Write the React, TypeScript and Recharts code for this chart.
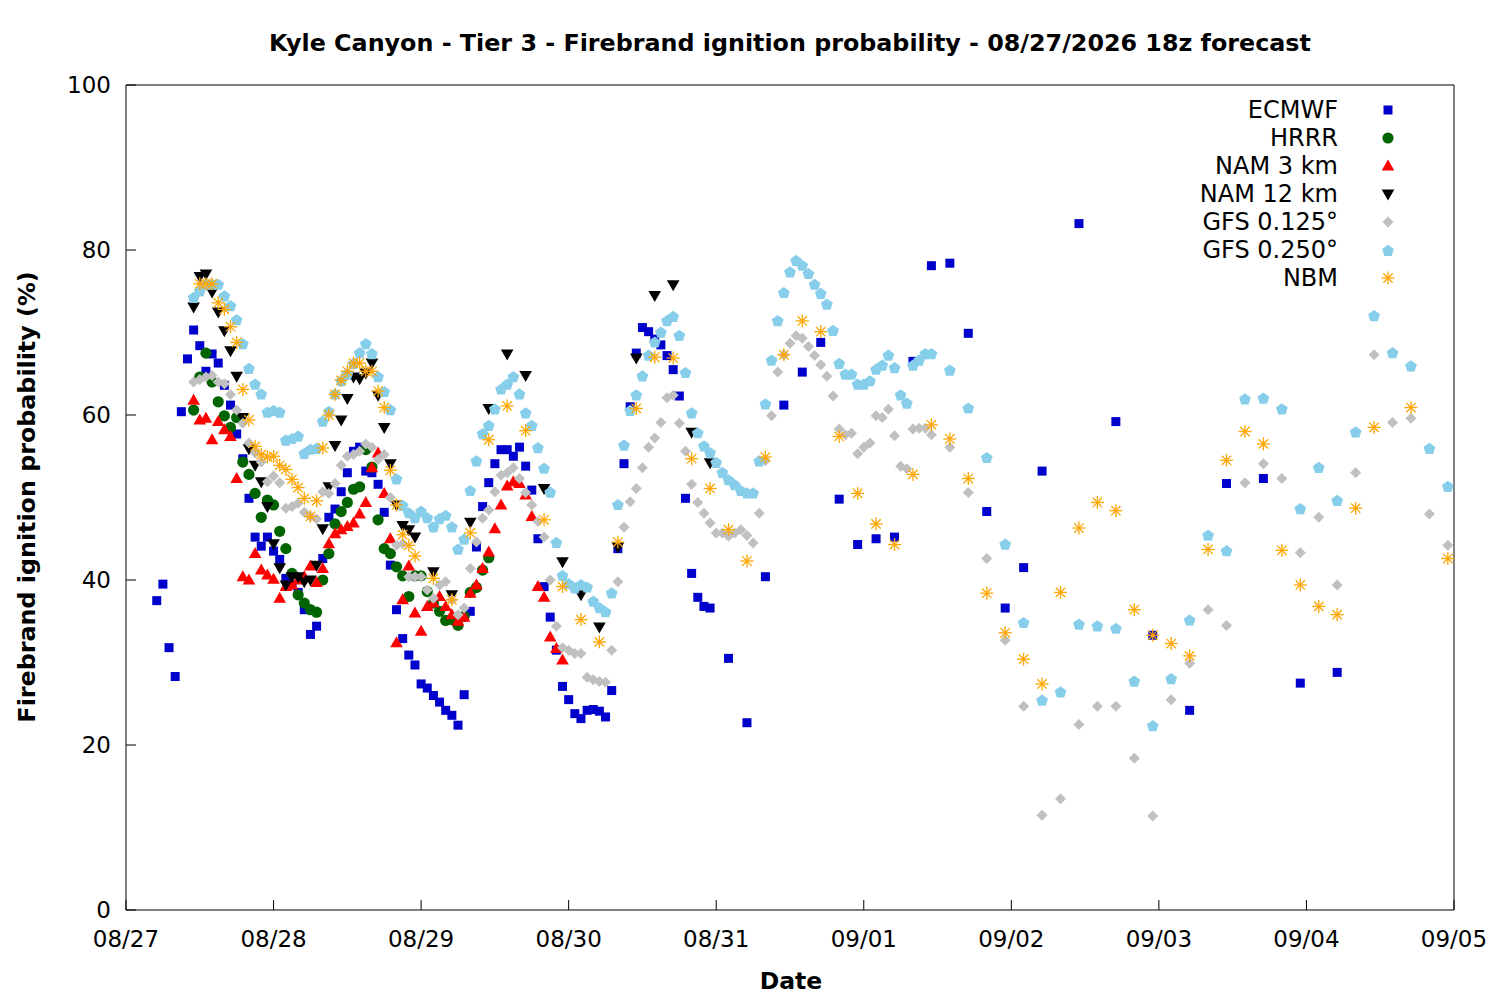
import React from "react";
import { ScatterChart, Scatter, XAxis, YAxis } from "recharts";

// hours since 08/27 00, value in %
const dateLabels = ["08/27", "08/28", "08/29", "08/30", "08/31", "09/01", "09/02", "09/03", "09/04", "09/05"];
const dayTicks = [0, 24, 48, 72, 96, 120, 144, 168, 192, 216];
const valueTicks = [0, 20, 40, 60, 80, 100];

const ecmwf: [number, number][] = [
  [5, 37.5], [6, 39.5], [7, 31.8], [8, 28.3], [9, 60.4], [10, 66.8], [11, 70.3], [12, 68.4], [13, 65.3], [14, 67.4],
  [15, 66.3], [16, 63.6], [17, 61.2], [18, 57.7], [19, 54.7], [20, 49.9], [21, 45.2], [22, 44.1], [23, 45.2], [24, 43.5],
  [25, 42.5], [26, 40.2], [27, 39.4], [28, 38.5], [29, 36.4], [30, 33.4], [31, 34.4], [32, 42.6], [33, 47.6], [34, 48.6],
  [35, 50.7], [36, 53.0], [37, 55.6], [38, 56.1], [39, 53.2], [40, 53.0], [41, 51.6], [42, 48.2], [43, 41.8], [44, 36.4],
  [45, 32.9], [46, 30.9], [47, 29.7], [48, 27.4], [49, 26.9], [50, 26.0], [51, 25.2], [52, 24.2], [53, 23.6], [54, 22.4],
  [55, 26.1], [56, 36.2], [57, 44.0], [58, 48.9], [59, 51.8], [60, 54.1], [61, 55.8], [62, 55.8], [63, 55.0], [64, 56.1],
  [65, 53.8], [66, 50.9], [67, 45.0], [68, 39.2], [69, 35.5], [70, 31.5], [71, 27.1], [72, 25.5], [73, 23.8], [74, 23.2],
  [75, 24.2], [76, 24.3], [77, 24.1], [78, 23.4], [79, 26.6], [80, 43.8], [81, 54.1], [82, 61.0], [83, 67.5], [84, 70.6],
  [85, 70.1], [86, 69.2], [87, 68.5], [88, 67.2], [89, 65.5], [90, 62.3], [91, 49.9], [92, 40.8], [93, 37.9], [94, 36.8],
  [95, 36.6], [98, 30.5], [101, 22.7], [104, 40.4], [107, 61.2], [110, 65.2], [113, 68.8], [116, 49.8], [119, 44.3],
  [122, 45.0], [125, 45.2], [128, 66.5], [131, 78.1], [134, 78.4], [137, 69.9], [140, 48.3], [143, 36.6], [146, 41.5],
  [149, 53.2], [155, 83.2], [161, 59.2], [167, 33.3], [173, 24.2], [179, 51.7], [185, 52.3], [191, 27.5], [197, 28.8],
];

const hrrr: [number, number][] = [
  [11, 60.6], [12, 64.6], [13, 67.5], [14, 64.0], [15, 61.6], [16, 59.9], [17, 58.5], [18, 59.7], [19, 54.3], [20, 52.8],
  [21, 50.5], [22, 47.6], [23, 49.7], [24, 49.1], [25, 45.9], [26, 43.8], [27, 40.8], [28, 38.2], [29, 37.2], [30, 36.4],
  [31, 36.1], [32, 40.0], [33, 43.2], [34, 46.8], [35, 48.3], [36, 49.4], [37, 51.0], [38, 51.3], [39, 55.8], [40, 53.7],
  [41, 47.3], [42, 43.8], [43, 43.2], [44, 41.6], [45, 40.5], [46, 38.0], [47, 40.5], [48, 40.5], [49, 38.6], [50, 37.2],
  [51, 36.2], [52, 35.1], [53, 35.2], [54, 34.5], [55, 35.6], [56, 38.5], [57, 39.1], [58, 41.2], [59, 42.7],
];

const nam3: [number, number][] = [
  [11, 61.8], [12, 59.4], [13, 59.6], [14, 57.0], [15, 59.2], [16, 58.2], [17, 57.4], [18, 52.3], [19, 40.4], [20, 40.0],
  [21, 43.2], [22, 41.2], [23, 40.6], [24, 40.1], [25, 37.8], [26, 39.2], [27, 39.4], [28, 40.0], [29, 40.4], [30, 41.7],
  [31, 39.7], [32, 41.4], [33, 44.4], [34, 45.6], [35, 46.1], [36, 46.5], [37, 46.9], [38, 48.0], [39, 49.4], [40, 53.6],
  [41, 55.4], [42, 50.5], [43, 45.0], [44, 32.4], [45, 37.6], [46, 41.7], [47, 36.0], [48, 33.8], [49, 36.8], [50, 37.2],
  [51, 38.0], [52, 36.8], [53, 35.8], [54, 35.0], [55, 35.5], [56, 38.4], [57, 39.4], [58, 41.4], [59, 43.4], [60, 46.2],
  [61, 49.1], [62, 51.4], [63, 51.9], [64, 51.7], [65, 50.3], [66, 47.7], [67, 39.2], [68, 37.9], [69, 33.1], [70, 31.7],
  [71, 30.3],
];

const nam12: [number, number][] = [
  [11, 73.1], [12, 76.8], [13, 77.1], [14, 74.9], [15, 72.5], [16, 70.2], [17, 67.8], [18, 64.7], [19, 59.7], [20, 55.9],
  [21, 53.9], [22, 51.9], [23, 48.9], [24, 44.4], [25, 41.5], [26, 39.4], [27, 40.4], [28, 40.4], [29, 39.8], [30, 40.0],
  [31, 41.8], [32, 46.2], [33, 51.3], [34, 56.3], [35, 59.4], [36, 62.0], [37, 64.6], [38, 64.4], [39, 65.1], [40, 66.3],
  [41, 62.4], [42, 58.5], [43, 54.1], [44, 49.1], [45, 46.6], [46, 46.1], [47, 45.2], [50, 41.0], [53, 38.2], [56, 47.0],
  [59, 60.8], [62, 67.4], [65, 64.8], [68, 51.1], [71, 42.2], [74, 38.2], [77, 34.3], [80, 44.0], [83, 66.9], [86, 74.5],
  [89, 75.8], [92, 57.9], [95, 54.2],
];

const gfs125: [number, number][] = [
  [11, 64.0], [12, 64.3], [13, 64.6], [14, 64.8], [15, 64.0], [16, 63.8], [17, 62.5], [18, 60.6], [19, 59.0], [20, 56.6],
  [21, 55.4], [22, 54.3], [23, 51.9], [24, 52.6], [25, 51.8], [26, 48.7], [27, 48.9], [28, 49.3], [29, 48.2], [30, 47.7],
  [31, 47.4], [32, 50.7], [33, 50.5], [34, 51.7], [35, 53.9], [36, 55.0], [37, 55.2], [38, 55.6], [39, 56.5], [40, 56.1],
  [41, 54.6], [42, 55.2], [43, 50.0], [44, 44.2], [45, 44.4], [46, 40.4], [47, 40.4], [48, 40.4], [49, 38.8], [50, 37.8],
  [51, 39.4], [52, 39.8], [53, 37.6], [54, 35.8], [55, 36.6], [56, 41.4], [57, 44.6], [58, 47.5], [59, 48.5], [60, 50.7],
  [61, 52.7], [62, 53.0], [63, 53.6], [64, 52.3], [65, 50.6], [66, 49.1], [67, 47.1], [68, 45.2], [69, 40.0], [70, 34.4],
  [71, 31.8], [72, 31.5], [73, 31.1], [74, 31.1], [75, 28.2], [76, 27.9], [77, 27.7], [78, 27.6], [79, 31.5], [80, 39.8],
  [81, 46.4], [82, 49.5], [83, 51.1], [84, 53.6], [85, 56.1], [86, 57.2], [87, 59.1], [88, 62.1], [89, 62.4], [90, 59.0],
  [91, 55.6], [92, 51.6], [93, 49.4], [94, 48.1], [95, 46.9], [96, 45.7], [97, 45.7], [98, 45.3], [99, 45.7], [100, 46.1],
  [101, 45.4], [102, 44.5], [103, 48.1], [104, 54.5], [105, 59.9], [106, 65.2], [107, 67.3], [108, 68.7], [109, 69.6],
  [110, 69.3], [111, 68.3], [112, 67.2], [113, 66.1], [114, 64.7], [115, 62.3], [116, 58.3], [117, 57.6], [118, 57.8],
  [119, 55.3], [120, 56.1], [121, 56.6], [122, 59.9], [123, 59.7], [124, 60.7], [125, 57.5], [126, 53.8], [127, 53.5],
  [128, 58.3], [129, 58.4], [130, 58.4], [131, 57.6], [134, 56.1], [137, 50.6], [140, 42.6], [143, 32.7], [146, 24.7],
  [149, 11.5], [152, 13.5], [155, 22.5], [158, 24.7], [161, 24.7], [164, 18.4], [167, 11.4], [170, 25.5], [173, 29.9],
  [176, 36.4], [179, 34.5], [182, 51.8], [185, 54.1], [188, 52.3], [191, 43.3], [194, 47.6], [197, 39.4], [200, 53.0],
  [203, 67.3], [206, 59.1], [209, 59.6], [212, 48.0], [215, 44.2],
];

const gfs250: [number, number][] = [
  [11, 74.3], [12, 75.1], [13, 75.9], [14, 75.9], [15, 75.9], [16, 74.5], [17, 73.3], [18, 71.6], [19, 68.7], [20, 65.7],
  [21, 63.8], [22, 62.6], [23, 60.4], [24, 60.6], [25, 60.4], [26, 57.0], [27, 57.2], [28, 57.5], [29, 55.4], [30, 55.9],
  [31, 56.0], [32, 59.3], [33, 60.5], [34, 62.6], [35, 64.2], [36, 65.0], [37, 66.3], [38, 67.6], [39, 68.7], [40, 67.5],
  [41, 64.7], [42, 62.9], [43, 60.7], [44, 52.3], [45, 49.1], [46, 48.2], [47, 47.6], [48, 48.4], [49, 47.6], [50, 46.5],
  [51, 47.5], [52, 47.9], [53, 46.5], [54, 43.8], [55, 45.0], [56, 50.9], [57, 54.5], [58, 57.8], [59, 58.8], [60, 60.8],
  [61, 63.2], [62, 63.8], [63, 64.7], [64, 62.6], [65, 60.3], [66, 58.8], [67, 56.1], [68, 53.6], [69, 50.7], [70, 44.6],
  [71, 40.6], [72, 39.6], [73, 39.1], [74, 39.5], [75, 39.2], [76, 37.5], [77, 36.7], [78, 36.2], [79, 38.5], [80, 49.2],
  [81, 56.4], [82, 60.6], [83, 62.5], [84, 64.8], [85, 67.3], [86, 68.9], [87, 70.1], [88, 71.5], [89, 72.0], [90, 69.7],
  [91, 65.2], [92, 60.3], [93, 57.9], [94, 56.3], [95, 55.5], [96, 54.3], [97, 53.1], [98, 52.2], [99, 51.6], [100, 50.9],
  [101, 50.6], [102, 50.6], [103, 54.5], [104, 61.4], [105, 66.7], [106, 71.5], [107, 74.9], [108, 77.4], [109, 78.8],
  [110, 78.2], [111, 77.2], [112, 75.9], [113, 74.8], [114, 73.5], [115, 70.3], [116, 66.3], [117, 65.0], [118, 65.0],
  [119, 63.8], [120, 63.8], [121, 64.2], [122, 65.6], [123, 66.1], [124, 67.3], [125, 65.8], [126, 62.5], [127, 61.5],
  [128, 66.1], [129, 66.7], [130, 67.5], [131, 67.5], [134, 65.5], [137, 60.9], [140, 54.9], [143, 44.4], [146, 34.9],
  [149, 25.5], [152, 26.5], [155, 34.7], [158, 34.5], [161, 34.2], [164, 27.8], [167, 22.4], [170, 28.1], [173, 35.2],
  [176, 45.5], [179, 43.6], [182, 62.0], [185, 62.1], [188, 60.8], [191, 48.7], [194, 53.7], [197, 49.7], [200, 58.0],
  [203, 72.1], [206, 67.6], [209, 66.0], [212, 56.0], [215, 51.4],
];

const nbm: [number, number][] = [
  [12, 75.9], [13, 75.9], [14, 75.9], [15, 73.6], [16, 72.8], [17, 70.7], [18, 68.8], [19, 63.1], [20, 59.4], [21, 56.2],
  [22, 55.2], [23, 54.9], [24, 55.0], [25, 53.9], [26, 53.4], [27, 52.2], [28, 51.2], [29, 49.9], [30, 47.7], [31, 49.6],
  [32, 56.0], [33, 60.0], [34, 62.5], [35, 64.2], [36, 65.3], [37, 66.3], [38, 66.3], [39, 65.3], [40, 65.3], [41, 62.9],
  [42, 60.9], [43, 53.3], [44, 49.1], [45, 45.5], [46, 44.2], [47, 42.9], [50, 40.2], [53, 37.6], [56, 45.7], [59, 57.0],
  [62, 61.1], [65, 58.1], [68, 47.3], [71, 39.2], [74, 35.2], [77, 32.5], [80, 44.6], [83, 60.8], [86, 67.0], [89, 66.9],
  [92, 54.7], [95, 51.1], [98, 46.1], [101, 42.3], [104, 54.9], [107, 67.3], [110, 71.4], [113, 70.1], [116, 57.4],
  [119, 50.5], [122, 46.8], [125, 44.3], [128, 52.8], [131, 58.8], [134, 57.1], [137, 52.3], [140, 38.4], [143, 33.6],
  [146, 30.4], [149, 27.4], [152, 38.5], [155, 46.3], [158, 49.4], [161, 48.4], [164, 36.4], [167, 33.3], [170, 32.3],
  [173, 30.8], [176, 43.7], [179, 54.5], [182, 58.0], [185, 56.5], [188, 43.6], [191, 39.4], [194, 36.8], [197, 35.8],
  [200, 48.7], [203, 58.5], [209, 60.9], [215, 42.6],
];

type Kind = "square" | "circle" | "triUp" | "triDown" | "diamond" | "pentagon" | "asterisk";

const series: { name: string; rows: [number, number][]; color: string; kind: Kind }[] = [
  { name: "ECMWF", rows: ecmwf, color: "#0000cc", kind: "square" },
  { name: "HRRR", rows: hrrr, color: "#006400", kind: "circle" },
  { name: "NAM 3 km", rows: nam3, color: "#ff0000", kind: "triUp" },
  { name: "NAM 12 km", rows: nam12, color: "#000000", kind: "triDown" },
  { name: "GFS 0.125°", rows: gfs125, color: "#c0c0c0", kind: "diamond" },
  { name: "GFS 0.250°", rows: gfs250, color: "#87ceeb", kind: "pentagon" },
  { name: "NBM", rows: nbm, color: "#ffa500", kind: "asterisk" },
];

const FONT = "'DejaVu Sans', sans-serif";

function Marker({ kind, cx, cy, color }: { kind: Kind; cx: number; cy: number; color: string }) {
  if (cx == null || cy == null) return null;
  switch (kind) {
    case "square":
      return <rect x={cx - 4.5} y={cy - 4.5} width={9} height={9} fill={color} />;
    case "circle":
      return <circle cx={cx} cy={cy} r={5.6} fill={color} />;
    case "triUp":
      return <polygon points={`${cx},${cy - 6.5} ${cx + 6.3},${cy + 4.5} ${cx - 6.3},${cy + 4.5}`} fill={color} />;
    case "triDown":
      return <polygon points={`${cx - 6.3},${cy - 4.5} ${cx + 6.3},${cy - 4.5} ${cx},${cy + 6.5}`} fill={color} />;
    case "diamond":
      return <polygon points={`${cx},${cy - 5.5} ${cx + 5.5},${cy} ${cx},${cy + 5.5} ${cx - 5.5},${cy}`} fill={color} />;
    case "pentagon": {
      const pts = [0, 1, 2, 3, 4]
        .map((i) => {
          const a = -Math.PI / 2 + (i * 2 * Math.PI) / 5;
          return `${cx + 6.2 * Math.cos(a)},${cy + 1 + 6.2 * Math.sin(a)}`;
        })
        .join(" ");
      return <polygon points={pts} fill={color} />;
    }
    case "asterisk": {
      const r = 6.5;
      const d = r * 0.72;
      return (
        <g stroke={color} strokeWidth={1.3}>
          <line x1={cx - r} y1={cy} x2={cx + r} y2={cy} />
          <line x1={cx} y1={cy - r} x2={cx} y2={cy + r} />
          <line x1={cx - d} y1={cy - d} x2={cx + d} y2={cy + d} />
          <line x1={cx - d} y1={cy + d} x2={cx + d} y2={cy - d} />
        </g>
      );
    }
  }
  return null;
}

export default function App() {
  const emptyTick = () => <g />;
  return (
    <div style={{ position: "absolute", left: 0, top: 0, width: 1500, height: 1000, background: "#fff", fontFamily: FONT }}>
      <ScatterChart width={1500} height={1000} margin={{ top: 75, right: 36, bottom: 50, left: 66 }}>
        <XAxis
          xAxisId="b"
          type="number"
          dataKey="h"
          domain={[0, 216]}
          ticks={dayTicks}
          interval={0}
          tickFormatter={(t: number) => dateLabels[Math.round(t / 24)]}
          height={40}
          tickSize={-10}
          tickMargin={31}
          stroke="#000"
          tick={{ fill: "#000", fontSize: 23, fontFamily: FONT }}
        />
        <XAxis
          xAxisId="t"
          orientation="top"
          type="number"
          dataKey="h"
          domain={[0, 216]}
          ticks={dayTicks}
          interval={0}
          height={10}
          tickSize={-10}
          stroke="#000"
          tick={emptyTick}
        />
        <YAxis
          yAxisId="l"
          type="number"
          dataKey="v"
          domain={[0, 100]}
          ticks={valueTicks}
          interval={0}
          width={60}
          tickSize={-10}
          tickMargin={25}
          stroke="#000"
          tick={{ fill: "#000", fontSize: 23, fontFamily: FONT }}
        />
        <YAxis
          yAxisId="r"
          orientation="right"
          type="number"
          dataKey="v"
          domain={[0, 100]}
          ticks={valueTicks}
          interval={0}
          width={10}
          tickSize={-10}
          stroke="#000"
          tick={emptyTick}
        />
        {series.map((s) => (
          <Scatter
            key={s.name}
            name={s.name}
            xAxisId="b"
            yAxisId="l"
            data={s.rows.map(([h, v]) => ({ h, v }))}
            fill={s.color}
            isAnimationActive={false}
            shape={(p: any) => <Marker kind={s.kind} cx={p.cx} cy={p.cy} color={s.color} />}
          />
        ))}
      </ScatterChart>
      <svg width={1500} height={1000} style={{ position: "absolute", left: 0, top: 0, pointerEvents: "none" }}>
        <text x={790} y={51} textAnchor="middle" fontSize={23.8} fontWeight="bold" fontFamily={FONT} fill="#000">
          Kyle Canyon - Tier 3 - Firebrand ignition probability - 08/27/2026 18z forecast
        </text>
        <text x={791} y={989} textAnchor="middle" fontSize={23.5} fontWeight="bold" fontFamily={FONT} fill="#000">
          Date
        </text>
        <text
          x={0}
          y={0}
          transform="translate(35,497) rotate(-90)"
          textAnchor="middle"
          fontSize={23.8}
          fontWeight="bold"
          fontFamily={FONT}
          fill="#000"
        >
          Firebrand ignition probability (%)
        </text>
        {series.map((s, i) => (
          <g key={s.name}>
            <text x={1338} y={118 + i * 28} textAnchor="end" fontSize={24} fontFamily={FONT} fill="#000">
              {s.name}
            </text>
            <Marker kind={s.kind} cx={1388} cy={110 + i * 28} color={s.color} />
          </g>
        ))}
      </svg>
    </div>
  );
}
